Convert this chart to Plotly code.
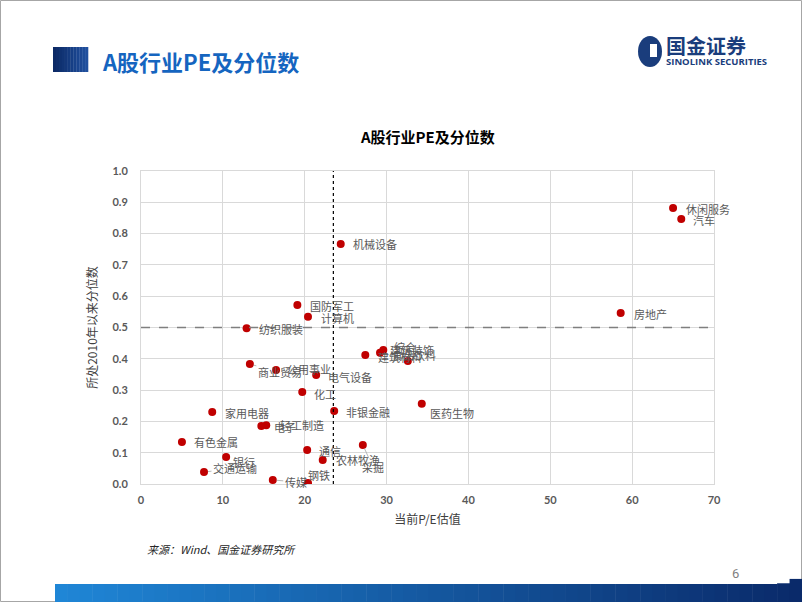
"""
A股行业PE及分位数 — scatter of current P/E vs. percentile since 2010
"""
import plotly.graph_objects as go

# ── Data ──────────────────────────────────────────────────────────────────────
industries = [
    "休闲服务", "汽车", "房地产", "机械设备", "国防军工", "计算机", "纺织服装",
    "商业贸易", "公用事业", "电气设备", "化工", "非银金融", "家用电器", "电子",
    "轻工制造", "有色金属", "银行", "交通运输", "传媒", "钢铁", "通信",
    "农林牧渔", "采掘", "建筑材料", "建筑装饰", "综合", "医药生物", "食品饮料",
]
pe_ratio = [
    65.0, 66.0, 58.6, 24.4, 19.1, 20.4, 12.9,
    13.3, 16.5, 21.4, 19.7, 23.6, 8.7, 14.7,
    15.3, 5.0, 10.4, 7.7, 16.1, 20.4, 20.3,
    22.2, 27.1, 27.4, 29.2, 29.6, 34.3, 32.6,
]
percentile = [
    0.882, 0.847, 0.546, 0.767, 0.572, 0.534, 0.498,
    0.383, 0.364, 0.348, 0.294, 0.233, 0.230, 0.185,
    0.188, 0.134, 0.086, 0.038, 0.013, 0.003, 0.109,
    0.077, 0.125, 0.412, 0.419, 0.428, 0.256, 0.393,
]
pe_ref = 23.5      # vertical reference line
pct_ref = 0.5      # horizontal reference line

x_ticks = [0, 10, 20, 30, 40, 50, 60, 70]
y_ticks = [0.0, 0.1, 0.2, 0.3, 0.4, 0.5, 0.6, 0.7, 0.8, 0.9, 1.0]

# label offsets in screen px (dx right, dy down).
# plain labels: offset of the text's left-middle; leader labels: offset of text centre
_LABEL_POS = {
    "休闲服务": (11, 1), "汽车": (10, 1), "房地产": (11, 1), "机械设备": (10, 0),
    "国防军工": (11, 1), "计算机": (11, 1), "纺织服装": (10, 1),
    "商业贸易": (30, 8, True), "公用事业": (9, -1), "电气设备": (10, 2),
    "化工": (10, 2), "非银金融": (10, 1), "家用电器": (11, 1), "电子": (11, 1),
    "轻工制造": (12, 0), "有色金属": (10, 0), "银行": (5, 5),
    "交通运输": (31, -4, True), "传媒": (23, 2, True), "钢铁": (-2, -8),
    "通信": (10, 1), "农林牧渔": (11, 0), "采掘": (10, 22, True),
    "建筑材料": (11, 2), "建筑装饰": (8, -3), "综合": (9, -3),
    "医药生物": (6, 9), "食品饮料": (-18, -6),
}

# ── Geometry (plot area in page pixels) ───────────────────────────────────────
W, H = 802, 602
PL, PR, PT, PB = 141, 714, 171, 484
FONT = "Noto Sans CJK SC"


def px(x):
    return (x - PL) / (PR - PL)


def py(y):
    return (PB - y) / (PB - PT)


def _mix(c1, c2, t):
    a = [int(c1[i:i + 2], 16) for i in (1, 3, 5)]
    b = [int(c2[i:i + 2], 16) for i in (1, 3, 5)]
    return "#%02x%02x%02x" % tuple(round(a[k] + (b[k] - a[k]) * t) for k in range(3))


fig = go.Figure()

fig.add_trace(go.Scatter(
    x=pe_ratio, y=percentile, mode="markers",
    marker=dict(color="#c00000", size=8),
    text=industries, hovertemplate="%{text}<br>PE %{x}<br>分位 %{y}<extra></extra>",
    showlegend=False,
))

# ── Point labels ──────────────────────────────────────────────────────────────
anns = []
for name, xv, yv in zip(industries, pe_ratio, percentile):
    pos = _LABEL_POS[name]
    dx, dy = pos[0], pos[1]
    lbl_font = dict(family=FONT, size=11, color="#595959")
    if len(pos) > 2:
        anns.append(dict(
            x=xv, y=yv, xref="x", yref="y", text=name, font=lbl_font,
            showarrow=True, arrowhead=0, arrowwidth=0.8, arrowcolor="#a6a6a6",
            ax=dx, ay=dy, standoff=4, xanchor="center", yanchor="middle",
        ))
    else:
        anns.append(dict(
            x=xv, y=yv, xref="x", yref="y", text=name, font=lbl_font,
            showarrow=False, xanchor="left", yanchor="middle",
            xshift=dx, yshift=-dy,
        ))

# ── Page texts ────────────────────────────────────────────────────────────────
anns += [
    dict(x=px(100), y=py(61), xref="paper", yref="paper", showarrow=False,
         xanchor="left", yanchor="middle", text="<b>A股行业PE及分位数</b>",
         font=dict(family=FONT, size=22, color="#1565c0")),
    dict(x=px(427), y=py(137), xref="paper", yref="paper", showarrow=False,
         xanchor="center", yanchor="middle", text="<b>A股行业PE及分位数</b>",
         font=dict(family=FONT, size=15, color="#000000")),
    dict(x=px(664), y=py(45), xref="paper", yref="paper", showarrow=False,
         xanchor="left", yanchor="middle", text="<b>国金证券</b>",
         font=dict(family=FONT, size=20, color="#1a3d7c")),
    dict(x=px(664), y=py(61), xref="paper", yref="paper", showarrow=False,
         xanchor="left", yanchor="middle", text="<b>SINOLINK SECURITIES</b>",
         font=dict(family="Open Sans", size=9.5, color="#1a3d7c")),
    dict(x=px(145), y=py(549), xref="paper", yref="paper", showarrow=False,
         xanchor="left", yanchor="middle", text="<i>来源：Wind、国金证券研究所</i>",
         font=dict(family=FONT, size=11, color="#262626")),
    dict(x=px(735), y=py(573), xref="paper", yref="paper", showarrow=False,
         xanchor="center", yanchor="middle", text="6",
         font=dict(family="Roboto", size=13, color="#7f7f7f")),
]

# ── Shapes: reference lines, header box, logo, footer bar ─────────────────────
shapes = [
    dict(type="line", xref="x", yref="paper", x0=pe_ref, x1=pe_ref, y0=0, y1=1,
         line=dict(color="#000000", width=1.2, dash="dot")),
    dict(type="line", xref="paper", yref="y", x0=0, x1=1, y0=pct_ref, y1=pct_ref,
         line=dict(color="#7f7f7f", width=1.5, dash="dash")),
    dict(type="rect", xref="paper", yref="paper", x0=px(0.5), x1=px(801.5),
         y0=py(601.5), y1=py(0.5), line=dict(color="#a6a6a6", width=1)),
]
# header square (gradient)
n = 12
for i in range(n):
    shapes.append(dict(
        type="rect", xref="paper", yref="paper", layer="above",
        x0=px(53 + 35 * i / n), x1=px(53 + 35 * (i + 1) / n + 0.3),
        y0=py(72), y1=py(47), line=dict(width=0),
        fillcolor=_mix("#0c2a66", "#1f4f9e", i / (n - 1)),
    ))
# logo mark
shapes += [
    dict(type="circle", xref="paper", yref="paper", x0=px(638), x1=px(662),
         y0=py(67), y1=py(36), line=dict(width=0), fillcolor="#1a3d7c"),
    dict(type="rect", xref="paper", yref="paper", x0=px(650), x1=px(657),
         y0=py(57), y1=py(44), line=dict(width=0), fillcolor="#ffffff"),
]
# footer bar (gradient)
n = 60
for i in range(n):
    x0 = 55 + (802 - 55) * i / n
    x1 = 55 + (802 - 55) * (i + 1) / n + 0.5
    top = 584 if x0 < 775 else 584 - (x0 - 775) * 0.35
    shapes.append(dict(
        type="rect", xref="paper", yref="paper",
        x0=px(x0), x1=px(x1), y0=py(603), y1=py(top), line=dict(width=0),
        fillcolor=_mix("#1f86d6", "#0a2a6a", i / (n - 1)),
    ))

_TICKFONT = dict(family="Lato", size=11, color="#595959", weight="bold")

fig.update_layout(
    width=W, height=H,
    margin=dict(l=PL, r=W - PR, t=PT, b=H - PB, pad=0),
    paper_bgcolor="#ffffff", plot_bgcolor="#ffffff",
    annotations=anns, shapes=shapes,
    xaxis=dict(
        range=[0, 70], tickvals=x_ticks, showgrid=True, gridcolor="#d9d9d9",
        zeroline=False, showline=True, linecolor="#d9d9d9", mirror=True,
        tickfont=_TICKFONT, ticks="", ticklabelstandoff=6,
        title=dict(text="当前P/E估值", standoff=10,
                   font=dict(family=FONT, size=12, color="#404040")),
    ),
    yaxis=dict(
        range=[0, 1], tickvals=y_ticks, tickformat=".1f", showgrid=True,
        gridcolor="#d9d9d9", zeroline=False, showline=True, linecolor="#d9d9d9",
        mirror=True, tickfont=_TICKFONT, ticks="", ticklabelstandoff=10,
        title=dict(text="所处2010年以来分位数", standoff=12,
                   font=dict(family=FONT, size=12, color="#404040")),
    ),
)

# page body has a default 8px margin; drop it so the slide sits at 0,0
fig.write_html(
    "out.html",
    config={"displayModeBar": False},
    post_script="document.body.style.margin='0';document.body.style.overflow='hidden';",
)
